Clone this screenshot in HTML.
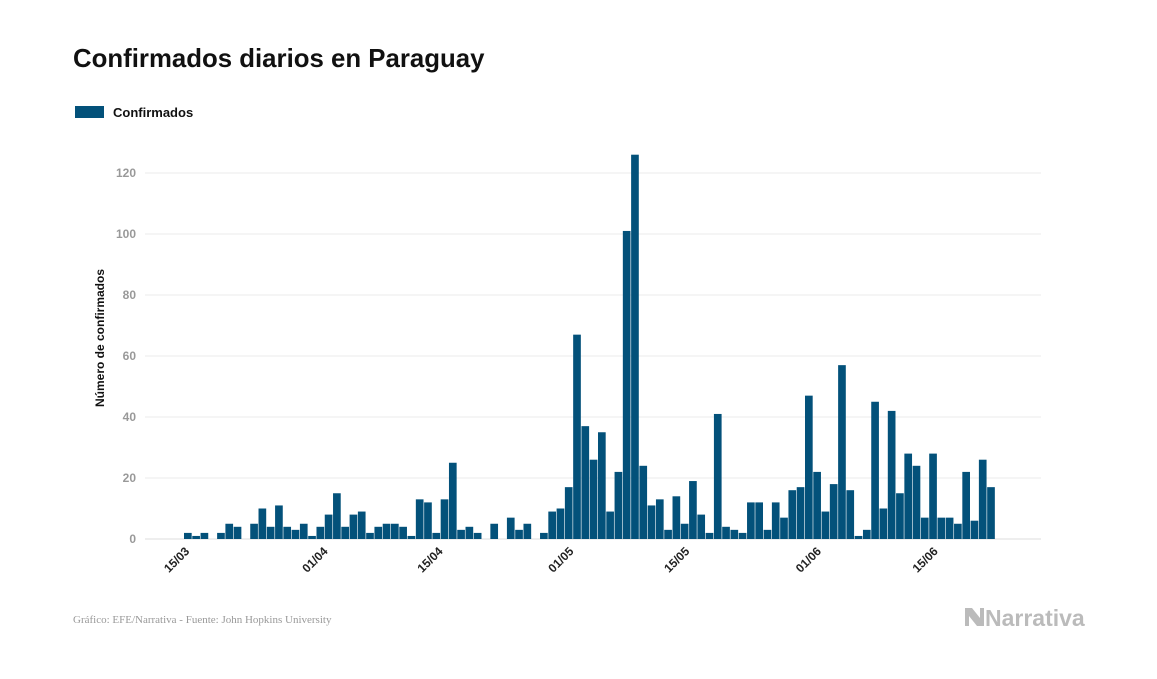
<!DOCTYPE html>
<html><head><meta charset="utf-8"><style>
body{margin:0;background:#fff;width:1157px;height:674px;overflow:hidden;font-family:"Liberation Sans",sans-serif}
</style></head><body>
<svg width="1157" height="674">
<text x="73" y="67" font-size="25.8" font-weight="bold" fill="#111">Confirmados diarios en Paraguay</text>
<rect x="75" y="106" width="29" height="12" fill="#03517a"/>
<text x="113" y="117" font-size="13" font-weight="bold" fill="#111">Confirmados</text>
<text transform="translate(104,338) rotate(-90)" text-anchor="middle" font-size="12" font-weight="bold" fill="#111">Número de confirmados</text>
<g id="grid"></g><g id="bars"></g><g id="xt"></g>
<text x="73" y="623" font-family="Liberation Serif" font-size="11" fill="#999">Gráfico: EFE/Narrativa - Fuente: John Hopkins University</text>
<g>
<path d="M965 608 L972 608 L980 618 L980 608 L984 608 L984 626 L977 626 L969 616 L969 626 L965 626 Z" fill="#bbb"/>
<text x="985" y="626" font-size="23" font-weight="bold" fill="#bbb">Narrativa</text>
</g>
</svg>
<script>
const values=[2,1,2,0,2,5,4,0,5,10,4,11,4,3,5,1,4,8,15,4,8,9,2,4,5,5,4,1,13,12,2,13,25,3,4,2,0,5,0,7,3,5,0,2,9,10,17,67,37,26,35,9,22,101,126,24,11,13,3,14,5,19,8,2,41,4,3,2,12,12,3,12,7,16,17,47,22,9,18,57,16,1,3,45,10,42,15,28,24,7,28,7,7,5,22,6,26,17];
const yTicks=[0,20,40,60,80,100,120];
const xTickLabels=["15/03","01/04","15/04","01/05","15/05","01/06","15/06"];
const xTickIndex=[0,16.7,30.6,46.4,60.4,76.3,90.4];
const NS="http://www.w3.org/2000/svg";
const y0=539,k=3.05,x0=184,step=8.28;
const ys=v=>y0-v*k, xs=i=>x0+i*step;
const grid=document.getElementById('grid'),bars=document.getElementById('bars'),xt=document.getElementById('xt');
yTicks.forEach(t=>{
 const l=document.createElementNS(NS,'line');
 l.setAttribute('x1',145);l.setAttribute('x2',1041);l.setAttribute('y1',ys(t));l.setAttribute('y2',ys(t));
 l.setAttribute('stroke',t==0?'#ddd':'#ebebeb');
 
 
 grid.appendChild(l);
 const tx=document.createElementNS(NS,'text');
 tx.setAttribute('x',136);tx.setAttribute('y',ys(t)+4);tx.setAttribute('text-anchor','end');
 tx.setAttribute('font-size','12');tx.setAttribute('font-weight','bold');tx.setAttribute('fill','#999');
 tx.textContent=t;
 
 
 grid.appendChild(tx);
});
values.forEach((v,i)=>{
 if(!v)return;
 const r=document.createElementNS(NS,'rect');
 r.setAttribute('x',xs(i));r.setAttribute('width',step-0.6);r.setAttribute('y',ys(v));r.setAttribute('height',v*k);
 r.setAttribute('fill','#03517a');
 
 
 bars.appendChild(r);
});
xTickLabels.forEach((lab,j)=>{
 const cx=xs(xTickIndex[j])+step/2;
 const tx=document.createElementNS(NS,'text');
 tx.setAttribute('transform',`translate(${cx+2},${552}) rotate(-45)`);
 tx.setAttribute('text-anchor','end');tx.setAttribute('font-size','12');tx.setAttribute('font-weight','bold');tx.setAttribute('fill','#222');
 tx.textContent=lab;
 
 
 xt.appendChild(tx);
});
</script>
</body></html>
